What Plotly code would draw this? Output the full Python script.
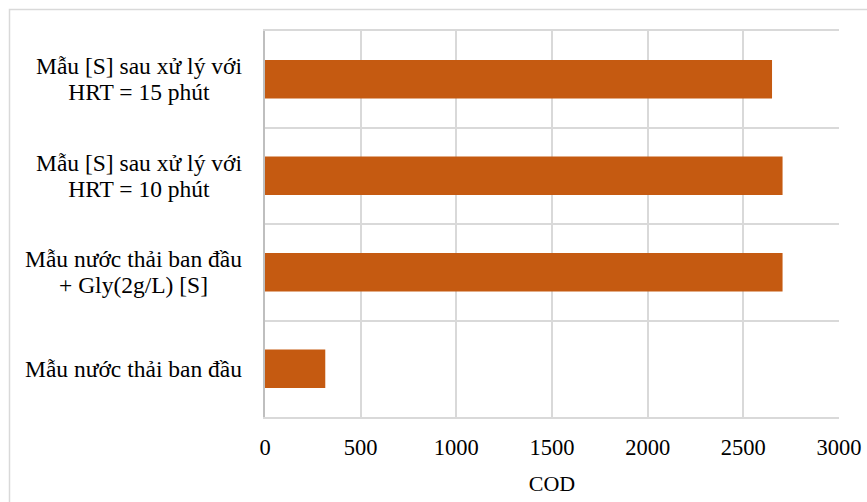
import plotly.graph_objects as go

# COD of each sample (bottom to top)
categories = [
    "Mẫu nước thải ban đầu",
    "Mẫu nước thải ban đầu<br>+ Gly(2g/L) [S]",
    "Mẫu [S] sau xử lý với<br>HRT = 10 phút",
    "Mẫu [S] sau xử lý với<br>HRT = 15 phút",
]
cod_values = [315, 2705, 2705, 2650]
x_ticks = [0, 500, 1000, 1500, 2000, 2500, 3000]

FONT = "'Liberation Serif', 'Times New Roman', Tinos, serif"
BAR_COLOR = "#C55A11"
GRID = "#D9D9D9"
LABEL_SIZE = 23.5
LINE_GAP = 26  # tighter than the default 1.3em line height

fig = go.Figure(
    go.Bar(
        x=cod_values,
        y=categories,
        orientation="h",
        marker=dict(color=BAR_COLOR, line=dict(width=0)),
        width=0.4,
    )
)

# Category labels: every block is right-aligned next to the axis with its
# lines centred on each other. Each line is drawn on its own, with the other
# lines kept transparent so the block keeps its width, then shifted so the
# lines sit LINE_GAP apart.
HIDE = '<span style="color:rgba(0,0,0,0)">{}</span>'
for cat in categories:
    lines = cat.split("<br>")
    n = len(lines)
    for i in range(n):
        text = "<br>".join(
            ln if j == i else HIDE.format(ln) for j, ln in enumerate(lines)
        )
        fig.add_annotation(
            x=0, xref="paper", y=cat, yref="y",
            text=text, showarrow=False,
            xanchor="right", yanchor="middle", align="center",
            xshift=-21,
            yshift=((n - 1) / 2 - i) * (LINE_GAP - 1.3 * LABEL_SIZE),
            font=dict(family=FONT, size=LABEL_SIZE, color="#000000"),
        )

# Light outer chart border
W, H = 867, 502
left, right, top, bottom = 265, 839, 31, 417
pw, ph = right - left, bottom - top
fig.add_shape(
    type="rect", xref="paper", yref="paper",
    x0=(9.5 - left) / pw, x1=(W + 5 - left) / pw,
    y0=(bottom - (H + 5)) / ph, y1=(bottom - 9.5) / ph,
    line=dict(color=GRID, width=1.5), fillcolor="rgba(0,0,0,0)",
    layer="below",
)

fig.update_layout(
    width=W, height=H,
    margin=dict(l=left, r=W - right, t=top, b=H - bottom, autoexpand=False),
    paper_bgcolor="white", plot_bgcolor="white",
    showlegend=False,
    font=dict(family=FONT, size=22, color="#000000"),
    xaxis=dict(
        range=[0, 3000],
        tickvals=x_ticks,
        ticktext=[str(v) for v in x_ticks],
        showgrid=True, gridcolor=GRID, gridwidth=1.5,
        zeroline=False,
        showline=True, linecolor=GRID, linewidth=1.5,
        ticks="", ticklabelstandoff=9,
        tickfont=dict(family=FONT, size=22.5, color="#000000"),
        title=dict(text="COD", standoff=17,
                   font=dict(family=FONT, size=22, color="#000000")),
        mirror=True,
        automargin=False,
    ),
    yaxis=dict(
        type="category",
        categoryorder="array", categoryarray=categories,
        tickson="boundaries",
        showgrid=True, gridcolor=GRID, gridwidth=1.5,
        showticklabels=False, ticks="",
        showline=True, linecolor="#BFBFBF", linewidth=1.5,
        zeroline=False,
        automargin=False,
    ),
)

fig.write_html("out.html")
